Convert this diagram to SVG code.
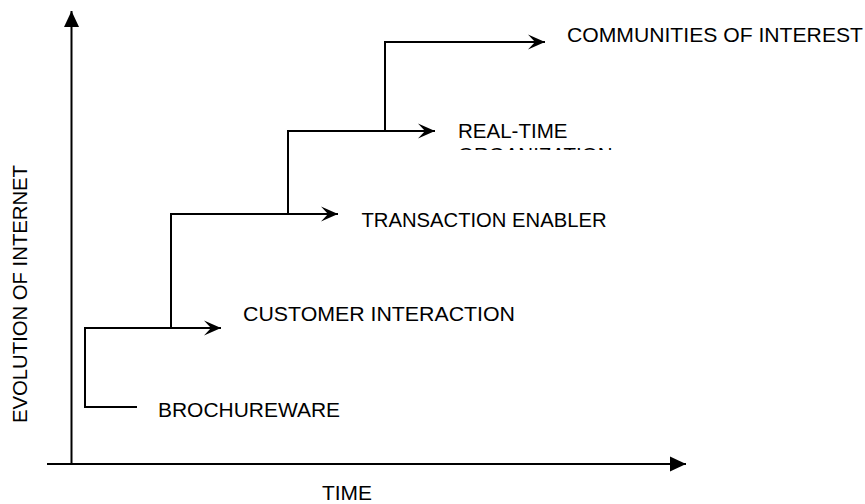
<svg xmlns="http://www.w3.org/2000/svg" width="865" height="504" viewBox="0 0 865 504">
  <style>
    .ln { fill: none; stroke: #000; stroke-width: 2; }
    .lbl { font-family: "Liberation Sans", Arial, sans-serif; font-size: 20.5px; fill: #000; }
  </style>
  <defs>
    <marker id="tri" markerWidth="16" markerHeight="16" viewBox="-16 -8 16 16" refX="0" refY="0" markerUnits="userSpaceOnUse" orient="auto">
      <path d="M0,0 L-16,-7.5 L-16,7.5 Z" fill="#000"/>
    </marker>
    <marker id="stealth" markerWidth="18" markerHeight="16" viewBox="-18 -8 18 16" refX="0" refY="0" markerUnits="userSpaceOnUse" orient="auto">
      <path d="M0,0 L-17,-7.5 L-10,0 L-17,7.5 Z" fill="#000"/>
    </marker>
    <clipPath id="clipRT">
      <rect x="440" y="100" width="300" height="50"/>
    </clipPath>
  </defs>
  <rect width="865" height="504" fill="#fff"/>

  <g id="connectors">
    <line class="ln" x1="71.5" y1="464" x2="71.5" y2="11" marker-end="url(#tri)"/>
    <line class="ln" x1="47" y1="464" x2="686" y2="464" marker-end="url(#tri)"/>
    <path class="ln" d="M137,407 H85 V328 H221" marker-end="url(#stealth)"/>
    <path class="ln" d="M171,328 V214 H338" marker-end="url(#stealth)"/>
    <path class="ln" d="M288,214 V131 H435" marker-end="url(#stealth)"/>
    <path class="ln" d="M385,131 V42 H545" marker-end="url(#stealth)"/>
  </g>

  <g id="axis-y-label">
    <text class="lbl" transform="translate(27,423) rotate(-90)" textLength="258" lengthAdjust="spacingAndGlyphs">EVOLUTION OF INTERNET</text>
  </g>
  <g id="axis-x-label">
    <text class="lbl" x="322" y="500" textLength="50" lengthAdjust="spacingAndGlyphs">TIME</text>
  </g>
  <g id="brochureware">
    <text class="lbl" x="158" y="416.5" textLength="182" lengthAdjust="spacingAndGlyphs">BROCHUREWARE</text>
  </g>
  <g id="customer-interaction">
    <text class="lbl" x="243" y="321" textLength="272" lengthAdjust="spacingAndGlyphs">CUSTOMER INTERACTION</text>
  </g>
  <g id="transaction-enabler">
    <text class="lbl" x="361.5" y="226.5" textLength="245" lengthAdjust="spacingAndGlyphs">TRANSACTION ENABLER</text>
  </g>
  <g id="real-time-organization" clip-path="url(#clipRT)">
    <text class="lbl" x="458" y="138.3" textLength="109.5" lengthAdjust="spacingAndGlyphs">REAL-TIME</text>
    <text class="lbl" x="458" y="161.5">ORGANIZATION</text>
  </g>
  <g id="communities-of-interest">
    <text class="lbl" x="567" y="41.7" textLength="296" lengthAdjust="spacingAndGlyphs">COMMUNITIES OF INTEREST</text>
  </g>
</svg>
